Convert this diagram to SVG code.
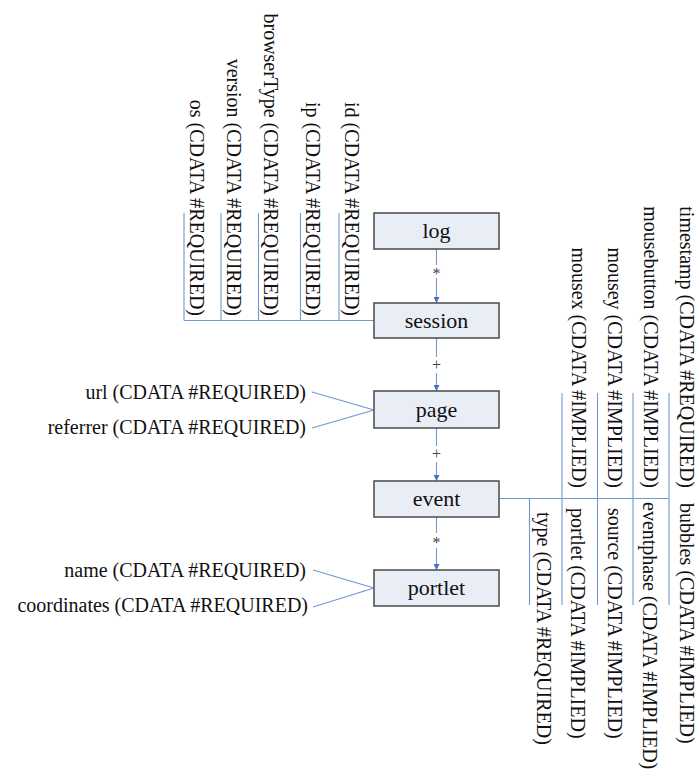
<svg xmlns="http://www.w3.org/2000/svg" width="699" height="776" viewBox="0 0 699 776">
<defs>
<style>
.box{fill:#E9EDF6;stroke:#4a4a4a;stroke-width:1.5}
.nl{font-family:"Liberation Serif","Times New Roman",serif;font-size:22px;fill:#111;text-anchor:middle}
.at{font-family:"Liberation Serif","Times New Roman",serif;font-size:20px;fill:#111}
.ml{font-family:"Liberation Serif","Times New Roman",serif;font-size:16px;fill:#444;text-anchor:middle}
.ln{stroke:#6F98D4;stroke-width:1.1;fill:none}
</style>
<marker id="ah" viewBox="0 0 10 10" refX="10" refY="5" markerWidth="6" markerHeight="6" markerUnits="userSpaceOnUse" orient="auto">
<path d="M0,0 L10,5 L0,10 z" fill="#4472C4"/>
</marker>
</defs>
<rect width="699" height="776" fill="#fff"/>

<g id="connectors">
<line class="ln" x1="436.5" y1="249" x2="436.5" y2="265"/>
<line class="ln" x1="436.5" y1="278" x2="436.5" y2="303" marker-end="url(#ah)"/>
<text class="ml" x="436.5" y="279">*</text>
<line class="ln" x1="436.5" y1="338" x2="436.5" y2="357"/>
<line class="ln" x1="436.5" y1="373" x2="436.5" y2="391" marker-end="url(#ah)"/>
<text class="ml" x="436.5" y="370">+</text>
<line class="ln" x1="436.5" y1="428" x2="436.5" y2="446"/>
<line class="ln" x1="436.5" y1="462" x2="436.5" y2="481" marker-end="url(#ah)"/>
<text class="ml" x="436.5" y="459">+</text>
<line class="ln" x1="436.5" y1="517" x2="436.5" y2="533"/>
<line class="ln" x1="436.5" y1="548" x2="436.5" y2="570" marker-end="url(#ah)"/>
<text class="ml" x="436.5" y="548">*</text>
<path class="ln" d="M374,320.5 H184 M184,213 V320.5 M221,213 V320.5 M258.5,213 V320.5 M300.5,213 V320.5 M339,213 V320.5"/>
<path class="ln" d="M312,392 L374,410 L312,428"/>
<path class="ln" d="M313,570 L374,588 L313,607"/>
<path class="ln" d="M499,498.5 H669 M562,393 V605 M597.5,393 V605 M633,393 V605 M669,393 V605 M529.5,498.5 V605"/>
</g>

<g id="log"><rect class="box" x="374" y="213" width="125" height="36"/><text class="nl" x="436.5" y="238">log</text></g>
<g id="session"><rect class="box" x="374" y="303" width="125" height="35"/><text class="nl" x="436.5" y="327.5">session</text></g>
<g id="page"><rect class="box" x="374" y="391" width="125" height="37"/><text class="nl" x="436.5" y="416.5">page</text></g>
<g id="event"><rect class="box" x="374" y="481" width="125" height="36"/><text class="nl" x="436.5" y="506">event</text></g>
<g id="portlet"><rect class="box" x="374" y="570" width="125" height="36"/><text class="nl" x="436.5" y="595">portlet</text></g>

<g id="session-attrs" class="at" text-anchor="end">
<text transform="translate(190,316) rotate(90)">os (CDATA #REQUIRED)</text>
<text transform="translate(226.5,316) rotate(90)">version (CDATA #REQUIRED)</text>
<text transform="translate(264,316) rotate(90)">browserType (CDATA #REQUIRED)</text>
<text transform="translate(306,316) rotate(90)">ip (CDATA #REQUIRED)</text>
<text transform="translate(344.5,316) rotate(90)">id (CDATA #REQUIRED)</text>
</g>

<g id="page-attrs" class="at" text-anchor="end">
<text x="306" y="399">url (CDATA #REQUIRED)</text>
<text x="306" y="434">referrer (CDATA #REQUIRED)</text>
</g>

<g id="portlet-attrs" class="at" text-anchor="end">
<text x="306" y="577">name (CDATA #REQUIRED)</text>
<text x="308" y="612">coordinates (CDATA #REQUIRED)</text>
</g>

<g id="event-attrs" class="at">
<text text-anchor="end" transform="translate(572,488) rotate(90)">mousex (CDATA #IMPLIED)</text>
<text text-anchor="end" transform="translate(608,488) rotate(90)">mousey (CDATA #IMPLIED)</text>
<text text-anchor="end" transform="translate(644,488) rotate(90)">mousebutton (CDATA #IMPLIED)</text>
<text text-anchor="end" transform="translate(679.5,488) rotate(90)">timestamp (CDATA #REQUIRED)</text>
<text transform="translate(537,512) rotate(90)">type (CDATA #REQUIRED)</text>
<text transform="translate(570.5,508) rotate(90)">portlet (CDATA #IMPLIED)</text>
<text transform="translate(607.5,508) rotate(90)">source (CDATA #IMPLIED)</text>
<text transform="translate(643,502) rotate(90)">eventphase (CDATA #IMPLIED)</text>
<text transform="translate(679.5,503) rotate(90)">bubbles (CDATA #IMPLIED)</text>
</g>
</svg>
